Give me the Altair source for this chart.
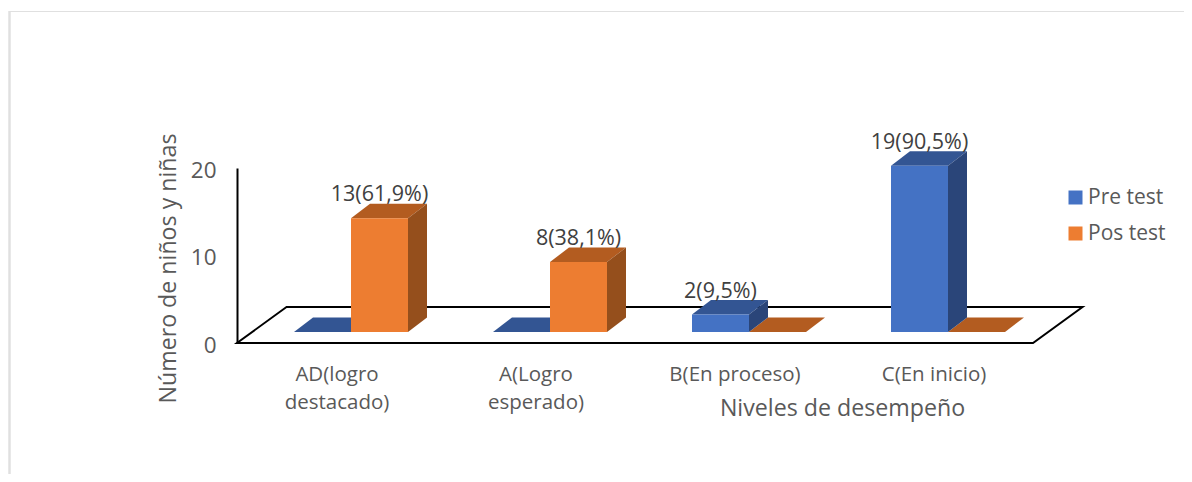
import altair as alt
import pandas as pd

# --- values ---
categories = ["AD(logro destacado)", "A(Logro esperado)", "B(En proceso)", "C(En inicio)"]
pre_test = [0, 0, 2, 19]
pos_test = [13, 8, 0, 0]
pre_labels = ["", "", "2(9,5%)", "19(90,5%)"]
pos_labels = ["13(61,9%)", "8(38,1%)", "", ""]
series_names = ["Pre test", "Pos test"]
front_colors = ["#4472C4", "#ED7D31"]
top_colors = ["#335593", "#B35C20"]
side_colors = ["#2A4579", "#954F1C"]
y_ticks = [0, 10, 20]

# --- oblique projection of the 3D bars, in data units ---
PW, PH = 796, 175
XU, YU = PW / 4, PH / 20            # px per band, px per count
bar_w = 57 / XU
bar_start = 57 / XU                 # gap from band start to the first bar
depth_x, depth_y = 19 / XU, 14.5 / YU
base_y = 11 / YU
floor_dx, floor_dy = 49.5 / XU, 36 / YU

fronts, tops, sides, labels = [], [], [], []
for c, cat in enumerate(categories):
    for s, (vals, labs) in enumerate(((pre_test, pre_labels), (pos_test, pos_labels))):
        v = vals[c]
        x0 = c + bar_start + s * bar_w
        x1 = x0 + bar_w
        y0 = base_y
        y1 = base_y + v
        key = f"{c}-{s}"
        fronts.append(dict(serie=series_names[s], x=x0, x2=x1, y=y0, y2=y1))
        for y, off in ((y1, 0), (y1 + depth_y, depth_x)):
            tops.append(dict(key=key, col=top_colors[s], y=y, x=x0 + off, x2=x1 + off))
        if v > 0:
            for off, d in ((0, 0), (depth_x, depth_y)):
                sides.append(dict(key=key, col=side_colors[s], x=x1 + off, y=y0 + d, y2=y1 + d))
        if labs[c]:
            labels.append(dict(t=labs[c], x=(x0 + x1) / 2, y=y1))

floor = pd.DataFrame([
    dict(y=0, x=0, x2=4),
    dict(y=floor_dy, x=floor_dx, x2=4 + floor_dx),
])

x_scale = alt.Scale(domain=[0, 4], nice=False, zero=False)
y_scale = alt.Scale(domain=[0, 20], nice=False, zero=False)
FONT = "Open Sans"
GREY = "#595959"

x_label_expr = ("[['AD(logro','destacado)'],['A(Logro','esperado)'],"
                "['B(En proceso)'],['C(En inicio)']][datum.value-0.5]")

x_axis = alt.Axis(
    values=[0.5, 1.5, 2.5, 3.5], labelExpr=x_label_expr, title="Niveles de desempeño",
    grid=False, ticks=False, domain=False,
    labelFont=FONT, labelFontSize=20.5, labelColor=GREY, labelPadding=37, labelLineHeight=28,
    labelOverlap=False, labelBaseline="alphabetic", labelAlign="center",
    titleFont=FONT, titleFontSize=23.2, titleColor=GREY, titleFontWeight="normal",
    titleX=605, titleY=72, titleAnchor="middle", titleBaseline="alphabetic",
)
y_axis = alt.Axis(
    values=y_ticks, title="Número de niños y niñas", grid=False, ticks=False,
    domain=True, domainColor="#000000", domainWidth=2,
    labelFont=FONT, labelFontSize=22.5, labelColor=GREY, labelPadding=21, labelOffset=2,
    titleFont=FONT, titleFontSize=23.2, titleColor=GREY, titleFontWeight="normal",
    titleX=-57, titleY=100, titleAnchor="middle", titleAngle=270, titleAlign="center",
)
X = alt.X("x:Q", scale=x_scale, axis=x_axis)
Y = alt.Y("y:Q", scale=y_scale, axis=y_axis)

floor_layer = alt.Chart(floor).mark_area(
    orient="horizontal", fill="white", stroke="black", strokeWidth=2
).encode(y=Y, x=X, x2="x2:Q")

top_layer = alt.Chart(pd.DataFrame(tops)).mark_area(orient="horizontal").encode(
    y=Y, x=X, x2="x2:Q",
    color=alt.Color("col:N", scale=None),
    detail="key:N",
)

side_layer = alt.Chart(pd.DataFrame(sides)).mark_area(orient="vertical").encode(
    x=X, y=Y, y2="y2:Q",
    color=alt.Color("col:N", scale=None),
    detail="key:N",
)

front_layer = alt.Chart(pd.DataFrame(fronts)).mark_rect().encode(
    x=X, x2="x2:Q", y=Y, y2="y2:Q",
    color=alt.Color(
        "serie:N",
        scale=alt.Scale(domain=series_names, range=front_colors),
        legend=alt.Legend(
            title=None, orient="none", legendX=828, legendY=19,
            symbolType="square", symbolSize=196, symbolStrokeWidth=0,
            labelFont=FONT, labelFontSize=21, labelColor=GREY,
            rowPadding=14, labelOffset=2,
        ),
    ),
)

text_layer = alt.Chart(pd.DataFrame(labels)).mark_text(
    font=FONT, fontSize=21.5, color="#404040", dy=-17, baseline="alphabetic", align="center"
).encode(x=X, y=Y, text="t:N")

frame_left = alt.Chart(pd.DataFrame({"a": [0]})).mark_rule(color="#e0e0e0", strokeWidth=2.5).encode(
    x=alt.value(-227.5), y=alt.value(-157), y2=alt.value(306)
)
frame_top = alt.Chart(pd.DataFrame({"a": [0]})).mark_rule(color="#e0e0e0", strokeWidth=1).encode(
    y=alt.value(-156.5), x=alt.value(-228), x2=alt.value(947)
)

chart = alt.layer(
    frame_left, frame_top, floor_layer, top_layer, side_layer, front_layer, text_layer
).resolve_scale(color="independent").properties(
    width=PW, height=PH,
    padding={"left": 229, "top": 160, "right": 151, "bottom": 131},
    autosize=alt.AutoSizeParams(type="none"),
).configure_view(stroke=None)

chart.save("out.html", embed_options={"renderer": "svg", "actions": False})
